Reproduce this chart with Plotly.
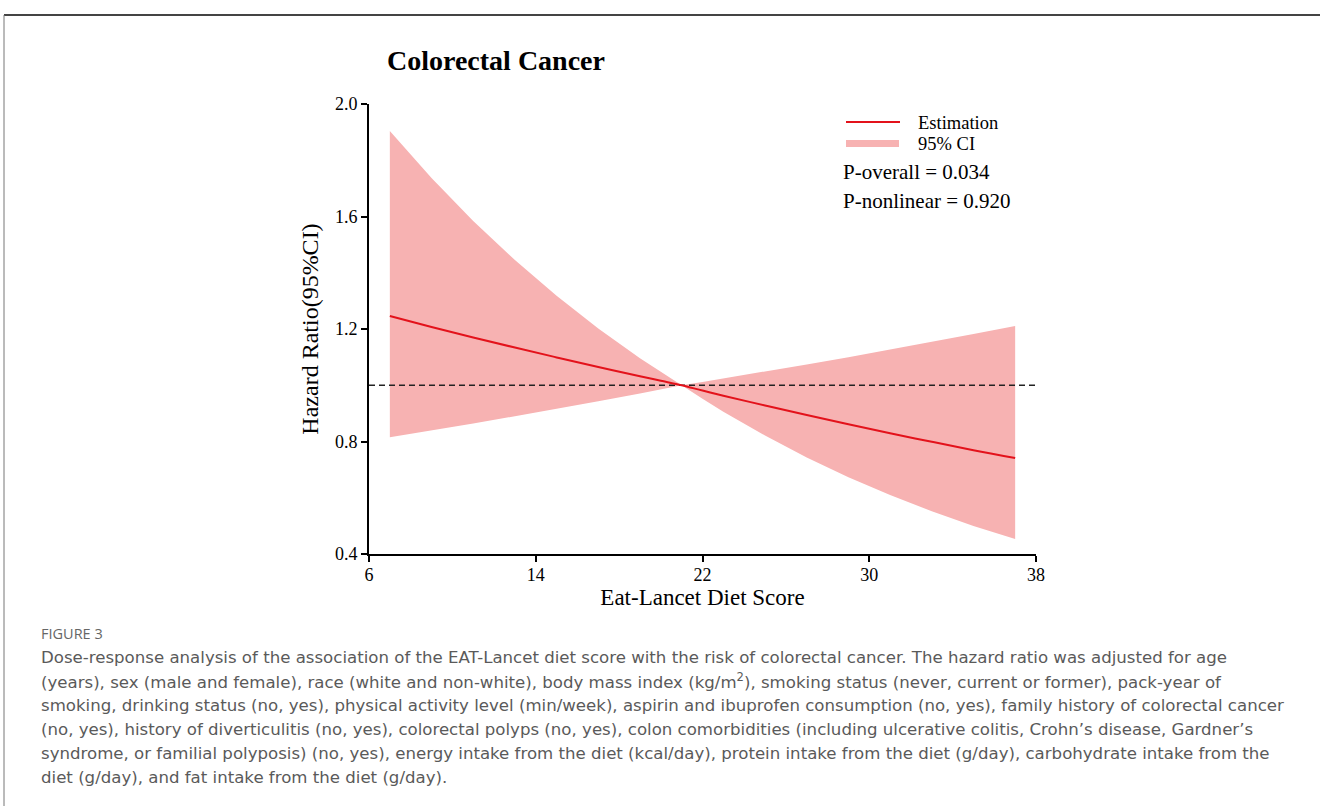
import plotly.graph_objects as go

# Data
score = [7, 9, 11, 13, 15, 17, 19, 20, 21, 22, 23, 25, 27, 29, 31, 33, 35, 37]
hr_est = [1.246, 1.207, 1.170, 1.134, 1.099, 1.065, 1.032, 1.016, 1.000, 0.981, 0.963, 0.928, 0.894, 0.861, 0.829, 0.799, 0.769, 0.741]
hr_upper = [1.904, 1.737, 1.584, 1.445, 1.318, 1.202, 1.096, 1.047, 1.000, 1.012, 1.024, 1.049, 1.074, 1.100, 1.127, 1.154, 1.182, 1.211]
hr_lower = [0.815, 0.839, 0.864, 0.890, 0.916, 0.943, 0.971, 0.986, 1.000, 0.952, 0.906, 0.821, 0.743, 0.673, 0.610, 0.552, 0.500, 0.453]
x_ticks = [6, 14, 22, 30, 38]
y_ticks = [0.4, 0.8, 1.2, 1.6, 2.0]
ref_hr = 1.0

caption_lines = [
    "Dose-response analysis of the association of the EAT-Lancet diet score with the risk of colorectal cancer. The hazard ratio was adjusted for age",
    "(years), sex (male and female), race (white and non-white), body mass index (kg/m<sup>2</sup>), smoking status (never, current or former), pack-year of",
    "smoking, drinking status (no, yes), physical activity level (min/week), aspirin and ibuprofen consumption (no, yes), family history of colorectal cancer",
    "(no, yes), history of diverticulitis (no, yes), colorectal polyps (no, yes), colon comorbidities (including ulcerative colitis, Crohn\u2019s disease, Gardner\u2019s",
    "syndrome, or familial polyposis) (no, yes), energy intake from the diet (kcal/day), protein intake from the diet (g/day), carbohydrate intake from the",
    "diet (g/day), and fat intake from the diet (g/day).",
]

W, H = 1320, 806
L, R, T, B = 369, 1036, 104, 554

RED = "#E3121B"
PINK = "#F7B2B2"


def px(xp):
    return (xp - L) / (R - L)


def py(yp):
    return (B - yp) / (B - T)


SERIF = "Liberation Serif"
fig = go.Figure()

fig.add_trace(go.Scatter(x=score, y=hr_lower, mode="lines", line=dict(width=0),
                         showlegend=False, hoverinfo="skip"))
fig.add_trace(go.Scatter(x=score, y=hr_upper, mode="lines", line=dict(width=0),
                         fill="tonexty", fillcolor=PINK, name="95% CI", showlegend=False))
fig.add_trace(go.Scatter(x=[6, 38], y=[ref_hr, ref_hr], mode="lines",
                         line=dict(color="#222222", width=1.3, dash="6px,4px"), showlegend=False))
fig.add_trace(go.Scatter(x=score, y=hr_est, mode="lines", line=dict(color=RED, width=2, shape="spline"),
                         name="Estimation", showlegend=False))

fig.update_layout(
    width=W, height=H,
    margin=dict(l=L, r=W - R, t=T, b=H - B, pad=0),
    paper_bgcolor="white", plot_bgcolor="white",
    font=dict(family=SERIF, color="black", size=18),
    showlegend=False,
    xaxis=dict(range=[6, 38], tickvals=x_ticks, ticktext=[str(v) for v in x_ticks],
               showgrid=False, zeroline=False, showline=True, linecolor="black", linewidth=2,
               ticks="outside", ticklen=6, tickwidth=2, tickcolor="black",
               tickfont=dict(family=SERIF, size=18), ticklabelstandoff=-3,
               title=dict(text="Eat-Lancet Diet Score", font=dict(family=SERIF, size=23), standoff=2)),
    yaxis=dict(range=[0.4, 2.0], tickvals=y_ticks, ticktext=[f"{v:.1f}" for v in y_ticks],
               showgrid=False, zeroline=False, showline=True, linecolor="black", linewidth=2,
               ticks="outside", ticklen=6, tickwidth=2, tickcolor="black",
               tickfont=dict(family=SERIF, size=18), ticklabelstandoff=0,
               title=dict(text="Hazard Ratio(95%CI)", font=dict(family=SERIF, size=24), standoff=10)),
)


def ann(text, x, y, size, family=SERIF, color="black", xanchor="left"):
    return dict(text=text, x=px(x), y=py(y), xref="paper", yref="paper", xanchor=xanchor,
                yanchor="middle", showarrow=False, font=dict(family=family, size=size, color=color))


annotations = [
    ann("<b>Colorectal Cancer</b>", 496, 60, 28, xanchor="center"),
    ann("Estimation", 916, 123, 18.5),
    ann("95% CI", 916, 144, 18.5),
    ann("P-overall = 0.034", 841, 172, 21),
    ann("P-nonlinear = 0.920", 841, 201, 21),
    ann("FIGURE 3", 39, 633, 14.5, family="Open Sans", color="#666666"),
]
for i, line in enumerate(caption_lines):
    annotations.append(ann(line, 39, 657 + 24 * i, 16.6, family="DejaVu Sans", color="#5a5a5a"))
fig.update_layout(annotations=annotations)

# legend samples
fig.add_shape(type="line", xref="paper", yref="paper", x0=px(846), x1=px(900), y0=py(122), y1=py(122),
              line=dict(color=RED, width=2))
fig.add_shape(type="rect", xref="paper", yref="paper", x0=px(846), x1=px(899), y0=py(140), y1=py(147),
              line=dict(width=0), fillcolor=PINK)

# frame border of the figure panel
fig.add_shape(type="line", xref="paper", yref="paper", x0=px(4), x1=px(1325), y0=py(15), y1=py(15),
              line=dict(color="#444444", width=2))
fig.add_shape(type="line", xref="paper", yref="paper", x0=px(4), x1=px(4), y0=py(15), y1=py(810),
              line=dict(color="#777777", width=1))

fig.write_html("out.html", config={"displayModeBar": False},
               post_script="document.body.style.margin='0';document.body.style.overflow='hidden';")
